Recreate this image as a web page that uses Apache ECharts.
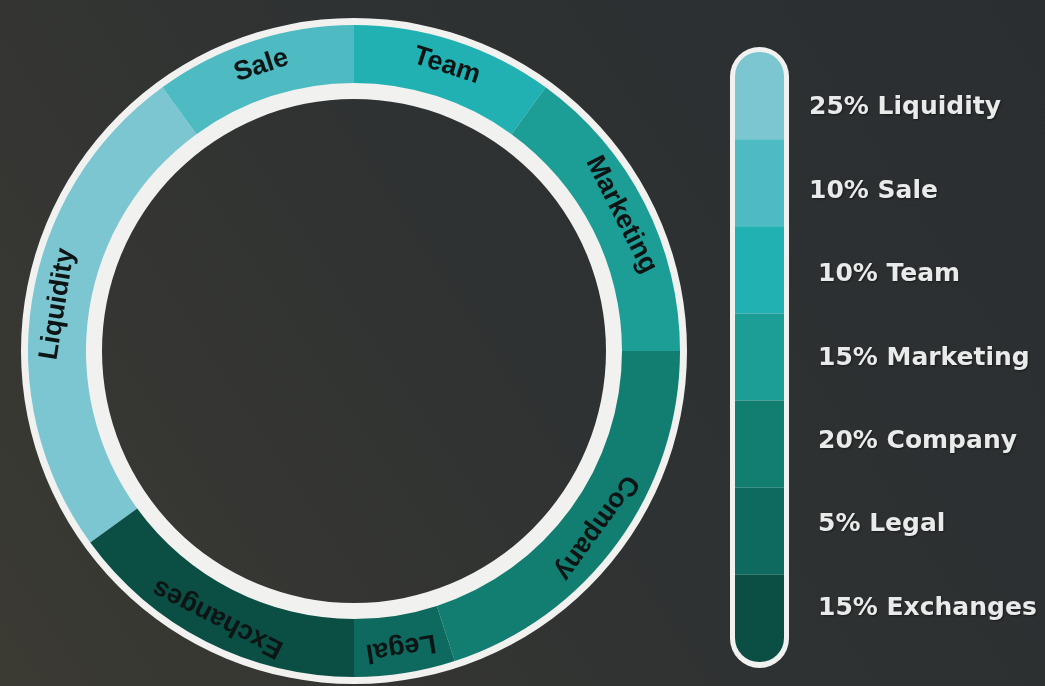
<!DOCTYPE html>
<html>
<head>
<meta charset="utf-8">
<script src="https://cdn.jsdelivr.net/npm/echarts@6/dist/echarts.min.js"></script>
<style>
html,body{margin:0;padding:0;background:#2d3031;}
#chart{width:1045px;height:686px;}
</style>
</head>
<body>
<div id="chart"></div>
<script>
// Data
const categories = ['Liquidity', 'Sale', 'Team', 'Marketing', 'Company', 'Legal', 'Exchanges'];
const shares = [25, 10, 10, 15, 20, 5, 15];
const colors = ['#7cc6d2', '#4dbbc1', '#22b1b2', '#1c9e97', '#127e71', '#0e6a5e', '#0a4e44'];

const total = shares.reduce((a, b) => a + b, 0);
const startTheta = 234; // clockwise degrees from 12 o'clock where first slice begins

// compute tangential rotations (text tops pointing outward, reading clockwise)
let acc = startTheta;
const pieData = categories.map((c, i) => {
  const span = shares[i] / total * 360;
  const mid = acc + span / 2;
  acc += span;
  return {
    name: c,
    value: shares[i],
    itemStyle: { color: colors[i] },
    label: { rotate: -mid }
  };
});

const barData = categories.map((c, i) => {
  const last = categories.length - 1;
  let br = 0;
  if (i === 0) br = [24, 24, 0, 0];
  else if (i === last) br = [0, 0, 24, 24];
  return { value: 1, itemStyle: { color: colors[i], borderRadius: br } };
});

const legendLabels = categories.map((c, i) => shares[i] + '% ' + c);

const chart = echarts.init(document.getElementById('chart'), null, { renderer: 'canvas' });
const cx = 354, cy = 351;
const labelFont = { fontFamily: 'DejaVu Sans', fontWeight: 'bold', fontSize: 25, color: '#e9eaea',
  textShadowColor: 'rgba(0,0,0,0.45)', textShadowBlur: 2, textShadowOffsetX: 1, textShadowOffsetY: 1 };

chart.setOption({
  animation: false,
  backgroundColor: {
    type: 'linear', x: 1, y: 0, x2: 0, y2: 1,
    colorStops: [
      { offset: 0, color: '#2a2e31' },
      { offset: 0.5, color: '#2f3232' },
      { offset: 1, color: '#3b3a33' }
    ]
  },
  graphic: [
    { type: 'ring', z: 1, silent: true, shape: { cx: cx, cy: cy, r: 333, r0: 252 }, style: { fill: '#f1f1ef' } },
    { type: 'rect', z: 1, silent: true, shape: { x: 730, y: 47, width: 59, height: 621, r: 29.5 }, style: { fill: '#f1f1ef' } }
  ],
  grid: [
    { left: 735, top: 52, width: 49, height: 610 },
    { left: 799, top: 66, width: 1, height: 584 }
  ],
  xAxis: [
    { gridIndex: 0, type: 'value', min: 0, max: 1, show: false },
    { gridIndex: 1, type: 'value', min: 0, max: 1, show: false }
  ],
  yAxis: [
    { gridIndex: 0, type: 'category', inverse: true, data: categories, show: false },
    {
      gridIndex: 1, type: 'category', inverse: true, data: legendLabels, position: 'right',
      axisLine: { show: false }, axisTick: { show: false }, splitLine: { show: false },
      axisLabel: {
        margin: 9, align: 'left',
        formatter: (v, i) => (i >= 2 ? '{b|' + v + '}' : '{a|' + v + '}'),
        rich: {
          a: Object.assign({}, labelFont),
          b: Object.assign({ padding: [0, 0, 0, 9] }, labelFont)
        }
      }
    }
  ],
  series: [
    {
      type: 'pie',
      silent: true,
      center: [cx, cy],
      radius: [268, 326],
      startAngle: 90 - startTheta,
      clockwise: true,
      avoidLabelOverlap: false,
      label: {
        show: true, position: 'inside', formatter: '{b}',
        fontFamily: 'Liberation Sans', fontWeight: 'bold', fontSize: 27, color: '#0c1414'
      },
      labelLine: { show: false },
      itemStyle: { borderWidth: 0 },
      data: pieData
    },
    {
      type: 'bar',
      xAxisIndex: 0, yAxisIndex: 0,
      silent: true,
      barWidth: '100%',
      barCategoryGap: 0,
      data: barData
    }
  ]
});
</script>
</body>
</html>
